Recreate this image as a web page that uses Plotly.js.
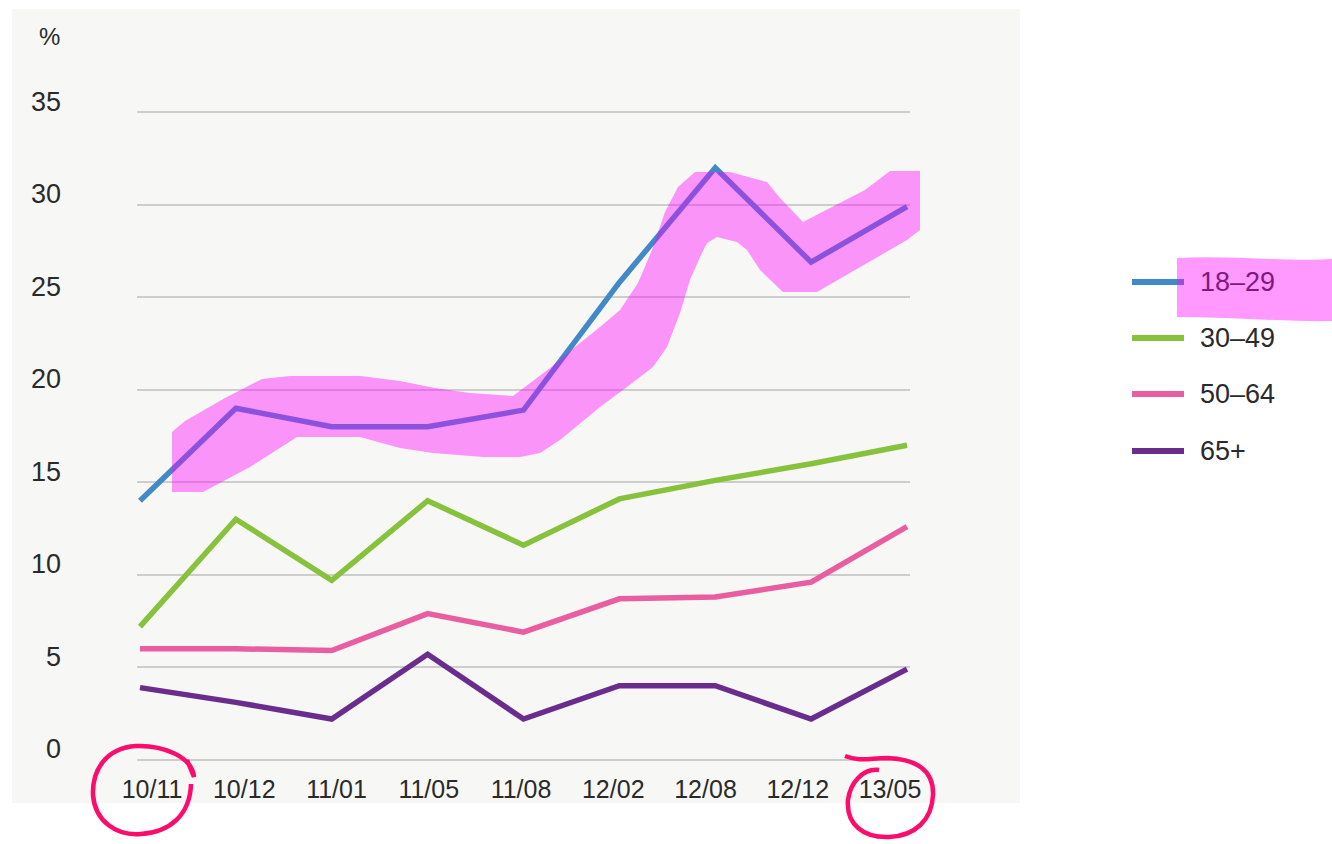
<!DOCTYPE html>
<html>
<head>
<meta charset="utf-8">
<script src="https://cdn.plot.ly/plotly-3.0.1.min.js"></script>
<style>
  html, body { margin: 0; padding: 0; background: #ffffff; }
  #chart { width: 1332px; height: 844px; }
</style>
</head>
<body>
<div id="chart"></div>
<script>
// Survey waves (yy/mm) and share (%) per age group
const periods = ['10/11', '10/12', '11/01', '11/05', '11/08', '12/02', '12/08', '12/12', '13/05'];
const age18to29 = [14.0, 19.0, 18.0, 18.0, 18.9, 25.8, 32.0, 26.9, 29.9];
const age30to49 = [7.2, 13.0, 9.7, 14.0, 11.6, 14.1, 15.1, 16.0, 17.0];
const age50to64 = [6.0, 6.0, 5.9, 7.9, 6.9, 8.7, 8.8, 9.6, 12.6];
const age65plus = [3.9, 3.1, 2.2, 5.7, 2.2, 4.0, 4.0, 2.2, 4.9];
const seriesNames = ['18–29', '30–49', '50–64', '65+'];
const yTickValues = [0, 5, 10, 15, 20, 25, 30, 35];
const unitLabel = '%';

const seriesValues = [age18to29, age30to49, age50to64, age65plus];
const seriesColors = ['#4189c7', '#86c23c', '#e95ea0', '#6a2d8e'];

// Page geometry
const W = 1332, H = 844;
const M = { l: 137, r: 422, t: 103, b: 75 };
const PW = W - M.l - M.r;
const PH = H - M.t - M.b;
const px = x => (x - M.l) / PW;
const py = y => (M.t + PH - y) / PH;

// Build an SVG path in paper coordinates from pixel-space commands
function paperPath(cmds) {
  return cmds.map(c => {
    const op = c[0];
    const nums = c.slice(1);
    const out = [];
    for (let i = 0; i < nums.length; i += 2) {
      out.push(px(nums[i]).toFixed(5) + ',' + py(nums[i + 1]).toFixed(5));
    }
    return op + out.join(' ');
  }).join(' ');
}
function polyPath(points) {
  return paperPath(points.map((p, i) => [i === 0 ? 'M' : 'L', p[0], p[1]])) + ' Z';
}

const textColor = '#2a2a2a';
const markerInk = '#fc0d6c';
const highlightAlpha = 0.4;
const highlightFill = 'rgba(255,0,255,' + highlightAlpha + ')';
// text colour as seen through the translucent highlighter
function underHighlight(hex) {
  const v = [1, 3, 5].map(i => parseInt(hex.substr(i, 2), 16));
  const hl = [255, 0, 255];
  const mix = v.map((c, i) => Math.round(c * (1 - highlightAlpha) + hl[i] * highlightAlpha));
  return 'rgb(' + mix.join(',') + ')';
}

const traces = seriesValues.map((vals, i) => ({
  type: 'scatter',
  mode: 'lines',
  name: seriesNames[i],
  x: periods,
  y: vals,
  line: { color: seriesColors[i], width: 5.5 },
  hoverinfo: 'x+y+name'
}));

// carrier for the category labels along the bottom axis
traces.push({
  type: 'scatter',
  mode: 'lines',
  x: periods,
  y: periods.map(() => null),
  xaxis: 'x2',
  yaxis: 'y',
  showlegend: false,
  hoverinfo: 'skip'
});

const shapes = [];
const annotations = [];

// light panel behind the chart
shapes.push({
  type: 'rect', xref: 'paper', yref: 'paper', layer: 'below',
  x0: px(12), x1: px(1020), y0: py(803), y1: py(9),
  fillcolor: '#f7f7f5', line: { width: 0 }
});

// unit label above the value axis
annotations.push({
  xref: 'paper', yref: 'paper', x: px(49), y: py(37),
  xanchor: 'center', yanchor: 'middle', showarrow: false,
  text: unitLabel, font: { size: 24, color: textColor }
});

// legend
const legendRowY = [282, 338, 394, 451];
seriesNames.forEach((name, i) => {
  shapes.push({
    type: 'line', xref: 'paper', yref: 'paper', layer: 'below',
    x0: px(1132), x1: px(1184), y0: py(legendRowY[i]), y1: py(legendRowY[i]),
    line: { color: seriesColors[i], width: 6 }
  });
  annotations.push({
    xref: 'paper', yref: 'paper', x: px(1198), y: py(legendRowY[i]),
    xanchor: 'left', yanchor: 'middle', showarrow: false,
    text: name,
    font: { size: 27, color: i === 0 ? underHighlight(textColor) : textColor }
  });
});

// highlighter stroke along the 18–29 line
const bandPoints = [
  [172, 432], [185, 421], [225, 398], [262, 379], [290, 376], [360, 376], [400, 381],
  [435, 388], [470, 393], [513, 396], [550, 368], [575, 347], [600, 327], [620, 310],
  [638, 283], [652, 250], [665, 212], [678, 187], [695, 172], [730, 172], [767, 182],
  [780, 198], [803, 222], [830, 208], [865, 190], [890, 171], [920, 171],
  [920, 230], [907, 240], [817, 292], [783, 292], [760, 270], [747, 250], [737, 242],
  [717, 237], [707, 243], [700, 257], [690, 280], [680, 313], [667, 347], [653, 367],
  [627, 387], [600, 407], [560, 440], [540, 453], [520, 457], [483, 457], [433, 453],
  [400, 448], [360, 437], [327, 437], [297, 437], [250, 467], [203, 492], [172, 492]
];
shapes.push({
  type: 'path', xref: 'paper', yref: 'paper', layer: 'above',
  path: polyPath(bandPoints), fillcolor: highlightFill, line: { width: 0 }
});

// highlighter over the first legend entry
shapes.push({
  type: 'path', xref: 'paper', yref: 'paper', layer: 'above',
  path: paperPath([
    ['M', 1177, 258], ['C', 1230, 255, 1290, 262, 1332, 259],
    ['L', 1332, 321], ['C', 1290, 322, 1230, 317, 1177, 317], ['Z']
  ]),
  fillcolor: highlightFill, line: { width: 0 }
});

// pen circles around the first and last wave labels
shapes.push({
  type: 'path', xref: 'paper', yref: 'paper', layer: 'above',
  path: paperPath([
    ['M', 187, 760], ['L', 194, 777],
    ['C', 192, 756, 162, 745, 136, 746],
    ['C', 106, 748, 92, 770, 93, 795],
    ['C', 95, 821, 116, 836, 141, 834],
    ['C', 170, 832, 190, 815, 191, 784]
  ]),
  line: { color: markerInk, width: 4.5 }
});
shapes.push({
  type: 'path', xref: 'paper', yref: 'paper', layer: 'above',
  path: paperPath([
    ['M', 879, 770],
    ['C', 862, 768, 850, 784, 848, 800],
    ['C', 846, 825, 864, 838, 889, 837],
    ['C', 915, 836, 932, 820, 933, 795],
    ['C', 934, 770, 916, 759, 887, 758],
    ['C', 870, 758, 860, 762, 845, 756]
  ]),
  line: { color: markerInk, width: 4.5 }
});

const layout = {
  width: W, height: H,
  margin: M,
  paper_bgcolor: '#ffffff',
  plot_bgcolor: 'rgba(0,0,0,0)',
  showlegend: false,
  font: { family: '"Liberation Sans", Arial, sans-serif', color: textColor },
  xaxis: {
    type: 'category', categoryorder: 'array', categoryarray: periods,
    range: [-0.0313, 8.0313],
    showgrid: false, zeroline: false, showline: false,
    showticklabels: false, ticks: ''
  },
  xaxis2: {
    type: 'category', categoryorder: 'array', categoryarray: periods,
    overlaying: 'x', anchor: 'y', side: 'bottom',
    range: [-0.1626, 8.2168],
    showgrid: false, zeroline: false, showline: false, ticks: '',
    tickfont: { size: 25, color: textColor },
    ticklabelstandoff: 3
  },
  yaxis: {
    range: [-0.5, 35.5],
    tickmode: 'array', tickvals: yTickValues, ticktext: yTickValues.map(String),
    showgrid: true, gridcolor: '#cdcdcd', gridwidth: 2,
    zeroline: false, showline: false, ticks: '',
    tickfont: { size: 27, color: textColor },
    ticklabelstandoff: 75,
    ticklabelshift: -11
  },
  shapes: shapes,
  annotations: annotations
};

Plotly.newPlot('chart', traces, layout, { displayModeBar: false, staticPlot: true });
</script>
</body>
</html>
